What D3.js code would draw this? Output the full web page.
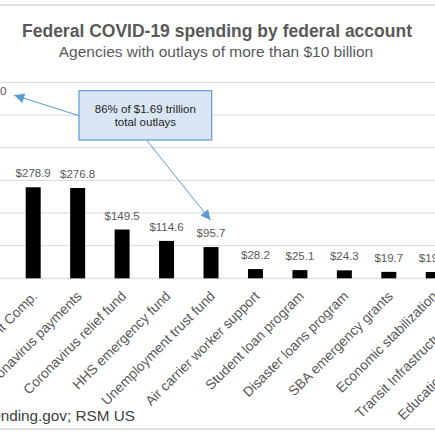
<!DOCTYPE html>
<html>
<head>
<meta charset="utf-8">
<script src="https://cdn.jsdelivr.net/npm/d3@7"></script>
<style>
  html, body { margin: 0; padding: 0; background: #fff; }
  svg { display: block; font-family: "Liberation Sans", Arial, sans-serif; }
</style>
</head>
<body>
<svg id="chart" width="435" height="435"></svg>
<script>
// ---- data ----
const categories = [
  "Paycheck Protection Program",
  "Federal Pandemic Unemployment Comp.",
  "Coronavirus payments",
  "Coronavirus relief fund",
  "HHS emergency fund",
  "Unemployment trust fund",
  "Air carrier worker support",
  "Student loan program",
  "Disaster loans program",
  "SBA emergency grants",
  "Economic stabilization",
  "Transit Infrastructure Grants",
  "Education Stabilization Fund"
];
const outlays = [532.0, 278.9, 276.8, 149.5, 114.6, 95.7, 28.2, 25.1, 24.3, 19.7, 19.2, 15.9, 13.1];
const yTicks = [0, 100, 200, 300, 400, 500, 600];
const titleText = "Federal COVID-19 spending by federal account";
const subtitleText = "Agencies with outlays of more than $10 billion";
const sourceText = "Source: USAspending.gov; RSM US";
const noteLines = ["86% of $1.69 trillion", "total outlays"];

// ---- layout ----
const W = 435, H = 435;
const svg = d3.select("#chart");
const textColor = "#595959";
const gridColor = "#d9d9d9";

const step = 44.45;
const xStart = -11.25 - step / 2;
const x = d3.scaleBand()
  .domain(categories)
  .range([xStart, xStart + step * categories.length])
  .paddingInner(0.663)
  .paddingOuter(0.3315);
const xc = d => x(d) + x.bandwidth() / 2;

const y = d3.scaleLinear().domain([0, 600]).range([278.3, 82.5]);

// frame lines
svg.append("line").attr("x1", 0).attr("x2", W).attr("y1", 5).attr("y2", 5)
  .attr("stroke", gridColor).attr("stroke-width", 1.5);
svg.append("line").attr("x1", 0).attr("x2", W).attr("y1", 429).attr("y2", 429)
  .attr("stroke", gridColor).attr("stroke-width", 1.5);

// title
svg.append("text").attr("x", 217).attr("y", 36.5).attr("text-anchor", "middle")
  .attr("font-size", 17.5).attr("font-weight", "bold").attr("fill", textColor)
  .text(titleText);
svg.append("text").attr("x", 216).attr("y", 57).attr("text-anchor", "middle")
  .attr("font-size", 15.5).attr("fill", textColor)
  .text(subtitleText);

// gridlines
svg.append("g").selectAll("line").data(yTicks).join("line")
  .attr("x1", 0).attr("x2", W)
  .attr("y1", d => y(d)).attr("y2", d => y(d))
  .attr("stroke", gridColor).attr("stroke-width", 1);

// bars
svg.append("g").selectAll("rect").data(categories).join("rect")
  .attr("x", d => x(d))
  .attr("width", x.bandwidth())
  .attr("y", (d, i) => y(outlays[i]))
  .attr("height", (d, i) => y(0) - y(outlays[i]))
  .attr("fill", "#000");

// data labels
svg.append("g").selectAll("text").data(categories).join("text")
  .attr("x", d => xc(d))
  .attr("y", (d, i) => y(outlays[i]) - 10)
  .attr("text-anchor", "middle")
  .attr("font-size", 11.5)
  .attr("fill", textColor)
  .text((d, i) => "$" + outlays[i].toFixed(1));

// category labels
svg.append("g").selectAll("text").data(categories).join("text")
  .attr("transform", d => `translate(${xc(d) + 5},${297}) rotate(-45)`)
  .attr("text-anchor", "end")
  .attr("font-size", 13.8)
  .attr("fill", textColor)
  .text(d => d);

// source
svg.append("text").attr("x", 135).attr("y", 420.5).attr("text-anchor", "end")
  .attr("font-size", 15.3).attr("fill", "#404040")
  .text(sourceText);

// annotation
const blue = "#5b9bd5";
const defs = svg.append("defs");
defs.append("marker").attr("id", "arr").attr("viewBox", "0 0 10 10")
  .attr("refX", 10).attr("refY", 5).attr("markerWidth", 12).attr("markerHeight", 10)
  .attr("markerUnits", "userSpaceOnUse")
  .attr("orient", "auto")
  .append("path").attr("d", "M0,0 L10,5 L0,10 Z").attr("fill", blue);

const box = { x: 79, y: 90.7, w: 132.7, h: 49.3 };
const tip1 = [xc(categories[0]) + 25.5, y(outlays[0]) - 9.5];
const tip2 = [xc(categories[5]) - 0.5, y(outlays[5]) - 27];

svg.append("line").attr("x1", box.x).attr("y1", box.y + 25)
  .attr("x2", tip1[0]).attr("y2", tip1[1])
  .attr("stroke", blue).attr("stroke-width", 1).attr("marker-end", "url(#arr)");
svg.append("line").attr("x1", box.x + 67.5).attr("y1", box.y + box.h)
  .attr("x2", tip2[0]).attr("y2", tip2[1])
  .attr("stroke", blue).attr("stroke-width", 1).attr("marker-end", "url(#arr)");

svg.append("rect").attr("x", box.x).attr("y", box.y).attr("width", box.w).attr("height", box.h)
  .attr("fill", "#dae5f3").attr("stroke", blue).attr("stroke-width", 1.2);
svg.append("g").selectAll("text").data(noteLines).join("text")
  .attr("x", box.x + box.w / 2)
  .attr("y", (d, i) => box.y + 22.5 + i * 13)
  .attr("text-anchor", "middle")
  .attr("font-size", 11.5)
  .attr("fill", "#262626")
  .text(d => d);
</script>
</body>
</html>
